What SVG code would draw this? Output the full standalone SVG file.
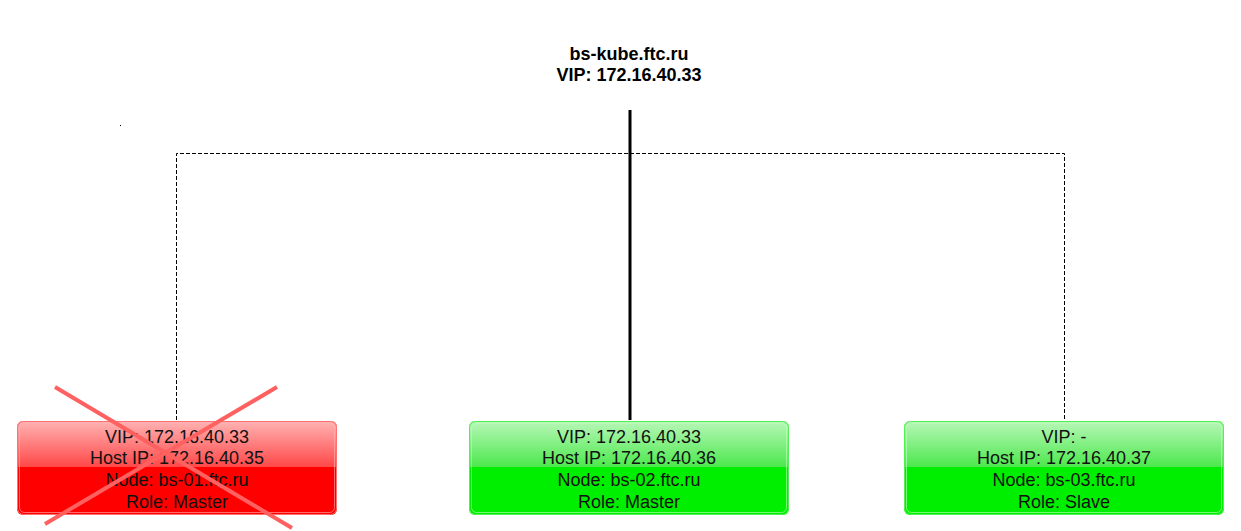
<svg xmlns="http://www.w3.org/2000/svg" width="1241" height="531" viewBox="0 0 1241 531">
<style>
.t{font-family:"Liberation Sans",Arial,sans-serif;font-size:18px;fill:#111;text-anchor:middle}
.title{font-family:"Liberation Sans",Arial,sans-serif;font-size:18px;font-weight:bold;fill:#000;text-anchor:middle}
.dash{fill:none;stroke:#000;stroke-width:1;stroke-dasharray:4,2}
</style>
<defs>
<linearGradient id="gTop" x1="0" y1="0" x2="0" y2="1">
<stop offset="0" stop-color="#b8f7b8"/><stop offset="1" stop-color="#4de84d"/>
</linearGradient>
<linearGradient id="rTop" x1="0" y1="0" x2="0" y2="1">
<stop offset="0" stop-color="#ffb3b3"/><stop offset="1" stop-color="#ff4848"/>
</linearGradient>
<clipPath id="cb"><rect x="0" y="0" width="320" height="94" rx="6"/></clipPath>
</defs>
<rect width="1241" height="531" fill="#fff"/>
<rect x="120" y="125" width="1" height="1" fill="#000"/>
<g id="title">
<text class="title" x="629" y="60">bs-kube.ftc.ru</text>
<text class="title" x="629" y="81">VIP: 172.16.40.33</text>
</g>
<g id="connectors">
<path class="dash" d="M176.5,420 V153.5 H1064.5 V420"/>
<line x1="630" y1="110" x2="630" y2="420" stroke="#000" stroke-width="3"/>
</g>
<g id="node1" transform="translate(17,421)">
<g clip-path="url(#cb)">
<rect x="0" y="0" width="320" height="94" fill="#ff0000"/>
<rect x="0" y="0" width="320" height="46" fill="url(#rTop)"/>
</g>
<rect x="0.5" y="0.5" width="319" height="93" rx="6" fill="none" stroke="#ff7070" stroke-width="1"/>
<rect x="2.5" y="2.5" width="315" height="89" rx="5" fill="none" stroke="#ffb0b0" stroke-width="1" opacity="0.6"/>
<text class="t" x="160" y="21.5">VIP: 172.16.40.33</text>
<text class="t" x="160" y="42.5">Host IP: 172.16.40.35</text>
<text class="t" x="160" y="64.5">Node: bs-01.ftc.ru</text>
<text class="t" x="160" y="86.5">Role: Master</text>
</g>
<g id="cross">
<line x1="55" y1="387" x2="292" y2="528" stroke="#ff6060" stroke-width="4"/>
<line x1="277" y1="387" x2="45" y2="524" stroke="#ff6060" stroke-width="4"/>
</g>
<g id="node2" transform="translate(469,421)">
<g clip-path="url(#cb)">
<rect x="0" y="0" width="320" height="94" fill="#00ee00"/>
<rect x="0" y="0" width="320" height="46" fill="url(#gTop)"/>
</g>
<rect x="0.5" y="0.5" width="319" height="93" rx="6" fill="none" stroke="#55ee55" stroke-width="1"/>
<rect x="2.5" y="2.5" width="315" height="89" rx="5" fill="none" stroke="#c0ffc0" stroke-width="1" opacity="0.6"/>
<text class="t" x="160" y="21.5">VIP: 172.16.40.33</text>
<text class="t" x="160" y="42.5">Host IP: 172.16.40.36</text>
<text class="t" x="160" y="64.5">Node: bs-02.ftc.ru</text>
<text class="t" x="160" y="86.5">Role: Master</text>
</g>
<g id="node3" transform="translate(904,421)">
<g clip-path="url(#cb)">
<rect x="0" y="0" width="320" height="94" fill="#00ee00"/>
<rect x="0" y="0" width="320" height="46" fill="url(#gTop)"/>
</g>
<rect x="0.5" y="0.5" width="319" height="93" rx="6" fill="none" stroke="#55ee55" stroke-width="1"/>
<rect x="2.5" y="2.5" width="315" height="89" rx="5" fill="none" stroke="#c0ffc0" stroke-width="1" opacity="0.6"/>
<text class="t" x="160" y="21.5">VIP: -</text>
<text class="t" x="160" y="42.5">Host IP: 172.16.40.37</text>
<text class="t" x="160" y="64.5">Node: bs-03.ftc.ru</text>
<text class="t" x="160" y="86.5">Role: Slave</text>
</g>
</svg>
